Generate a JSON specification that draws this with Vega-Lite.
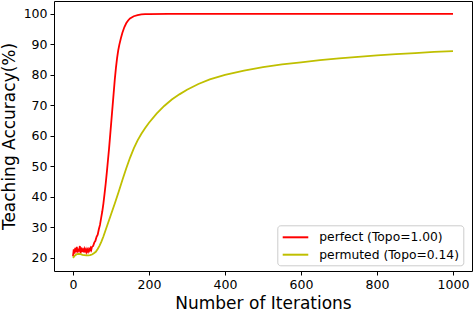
{
  "$schema": "https://vega.github.io/schema/vega-lite/v6.json",
  "width": 418,
  "height": 270,
  "autosize": "none",
  "padding": {"left": 54, "top": 1, "right": 2, "bottom": 43},
  "config": {
    "font": "DejaVu Sans",
    "view": {"stroke": "#000000", "strokeWidth": 1},
    "axis": {
      "grid": false,
      "domain": false,
      "tickColor": "#000000",
      "tickSize": 4,
      "labelColor": "#000000",
      "labelFontSize": 12.5,
      "titleColor": "#000000",
      "titleFontSize": 17,
      "titleFontWeight": "normal"
    }
  },
  "datasets": {
    "lines": [
      {"iter": 0, "acc": 20.5, "series": "perfect (Topo=1.00)"},
      {"iter": 2, "acc": 22.8, "series": "perfect (Topo=1.00)"},
      {"iter": 4, "acc": 21.4, "series": "perfect (Topo=1.00)"},
      {"iter": 6, "acc": 23.3, "series": "perfect (Topo=1.00)"},
      {"iter": 8, "acc": 21.9, "series": "perfect (Topo=1.00)"},
      {"iter": 10, "acc": 23.6, "series": "perfect (Topo=1.00)"},
      {"iter": 12, "acc": 21.7, "series": "perfect (Topo=1.00)"},
      {"iter": 14, "acc": 23.0, "series": "perfect (Topo=1.00)"},
      {"iter": 16, "acc": 22.1, "series": "perfect (Topo=1.00)"},
      {"iter": 18, "acc": 23.9, "series": "perfect (Topo=1.00)"},
      {"iter": 20, "acc": 21.5, "series": "perfect (Topo=1.00)"},
      {"iter": 22, "acc": 23.4, "series": "perfect (Topo=1.00)"},
      {"iter": 24, "acc": 22.0, "series": "perfect (Topo=1.00)"},
      {"iter": 26, "acc": 23.1, "series": "perfect (Topo=1.00)"},
      {"iter": 28, "acc": 21.8, "series": "perfect (Topo=1.00)"},
      {"iter": 30, "acc": 22.9, "series": "perfect (Topo=1.00)"},
      {"iter": 32, "acc": 22.2, "series": "perfect (Topo=1.00)"},
      {"iter": 34, "acc": 22.8, "series": "perfect (Topo=1.00)"},
      {"iter": 36, "acc": 21.9, "series": "perfect (Topo=1.00)"},
      {"iter": 38, "acc": 22.7, "series": "perfect (Topo=1.00)"},
      {"iter": 40, "acc": 22.1, "series": "perfect (Topo=1.00)"},
      {"iter": 42, "acc": 22.9, "series": "perfect (Topo=1.00)"},
      {"iter": 44, "acc": 22.4, "series": "perfect (Topo=1.00)"},
      {"iter": 46, "acc": 23.2, "series": "perfect (Topo=1.00)"},
      {"iter": 48, "acc": 22.6, "series": "perfect (Topo=1.00)"},
      {"iter": 50, "acc": 23.6, "series": "perfect (Topo=1.00)"},
      {"iter": 53, "acc": 23.9, "series": "perfect (Topo=1.00)"},
      {"iter": 56, "acc": 25.0, "series": "perfect (Topo=1.00)"},
      {"iter": 59, "acc": 25.6, "series": "perfect (Topo=1.00)"},
      {"iter": 62, "acc": 26.9, "series": "perfect (Topo=1.00)"},
      {"iter": 65, "acc": 27.6, "series": "perfect (Topo=1.00)"},
      {"iter": 68, "acc": 29.4, "series": "perfect (Topo=1.00)"},
      {"iter": 71, "acc": 30.8, "series": "perfect (Topo=1.00)"},
      {"iter": 74, "acc": 33.0, "series": "perfect (Topo=1.00)"},
      {"iter": 77, "acc": 35.2, "series": "perfect (Topo=1.00)"},
      {"iter": 80, "acc": 37.8, "series": "perfect (Topo=1.00)"},
      {"iter": 83, "acc": 41.0, "series": "perfect (Topo=1.00)"},
      {"iter": 86, "acc": 44.3, "series": "perfect (Topo=1.00)"},
      {"iter": 89, "acc": 48.0, "series": "perfect (Topo=1.00)"},
      {"iter": 92, "acc": 52.0, "series": "perfect (Topo=1.00)"},
      {"iter": 95, "acc": 56.0, "series": "perfect (Topo=1.00)"},
      {"iter": 98, "acc": 60.5, "series": "perfect (Topo=1.00)"},
      {"iter": 101, "acc": 65.0, "series": "perfect (Topo=1.00)"},
      {"iter": 104, "acc": 69.5, "series": "perfect (Topo=1.00)"},
      {"iter": 107, "acc": 74.0, "series": "perfect (Topo=1.00)"},
      {"iter": 110, "acc": 78.5, "series": "perfect (Topo=1.00)"},
      {"iter": 113, "acc": 82.3, "series": "perfect (Topo=1.00)"},
      {"iter": 116, "acc": 85.5, "series": "perfect (Topo=1.00)"},
      {"iter": 119, "acc": 88.0, "series": "perfect (Topo=1.00)"},
      {"iter": 122, "acc": 89.9, "series": "perfect (Topo=1.00)"},
      {"iter": 126, "acc": 92.0, "series": "perfect (Topo=1.00)"},
      {"iter": 130, "acc": 93.8, "series": "perfect (Topo=1.00)"},
      {"iter": 135, "acc": 95.6, "series": "perfect (Topo=1.00)"},
      {"iter": 140, "acc": 96.9, "series": "perfect (Topo=1.00)"},
      {"iter": 145, "acc": 97.8, "series": "perfect (Topo=1.00)"},
      {"iter": 150, "acc": 98.5, "series": "perfect (Topo=1.00)"},
      {"iter": 160, "acc": 99.2, "series": "perfect (Topo=1.00)"},
      {"iter": 170, "acc": 99.6, "series": "perfect (Topo=1.00)"},
      {"iter": 180, "acc": 99.8, "series": "perfect (Topo=1.00)"},
      {"iter": 190, "acc": 99.9, "series": "perfect (Topo=1.00)"},
      {"iter": 200, "acc": 99.9, "series": "perfect (Topo=1.00)"},
      {"iter": 250, "acc": 100.0, "series": "perfect (Topo=1.00)"},
      {"iter": 400, "acc": 100.0, "series": "perfect (Topo=1.00)"},
      {"iter": 600, "acc": 100.0, "series": "perfect (Topo=1.00)"},
      {"iter": 800, "acc": 100.0, "series": "perfect (Topo=1.00)"},
      {"iter": 1000, "acc": 100.0, "series": "perfect (Topo=1.00)"},
      {"iter": 0, "acc": 20.0, "series": "permuted (Topo=0.14)"},
      {"iter": 5, "acc": 20.8, "series": "permuted (Topo=0.14)"},
      {"iter": 10, "acc": 21.2, "series": "permuted (Topo=0.14)"},
      {"iter": 15, "acc": 21.3, "series": "permuted (Topo=0.14)"},
      {"iter": 20, "acc": 21.2, "series": "permuted (Topo=0.14)"},
      {"iter": 25, "acc": 21.0, "series": "permuted (Topo=0.14)"},
      {"iter": 30, "acc": 20.9, "series": "permuted (Topo=0.14)"},
      {"iter": 35, "acc": 20.8, "series": "permuted (Topo=0.14)"},
      {"iter": 40, "acc": 20.8, "series": "permuted (Topo=0.14)"},
      {"iter": 45, "acc": 20.9, "series": "permuted (Topo=0.14)"},
      {"iter": 50, "acc": 21.1, "series": "permuted (Topo=0.14)"},
      {"iter": 55, "acc": 21.5, "series": "permuted (Topo=0.14)"},
      {"iter": 60, "acc": 22.0, "series": "permuted (Topo=0.14)"},
      {"iter": 65, "acc": 22.9, "series": "permuted (Topo=0.14)"},
      {"iter": 70, "acc": 24.0, "series": "permuted (Topo=0.14)"},
      {"iter": 75, "acc": 25.4, "series": "permuted (Topo=0.14)"},
      {"iter": 80, "acc": 27.0, "series": "permuted (Topo=0.14)"},
      {"iter": 85, "acc": 28.8, "series": "permuted (Topo=0.14)"},
      {"iter": 90, "acc": 30.6, "series": "permuted (Topo=0.14)"},
      {"iter": 95, "acc": 32.4, "series": "permuted (Topo=0.14)"},
      {"iter": 100, "acc": 34.2, "series": "permuted (Topo=0.14)"},
      {"iter": 110, "acc": 37.8, "series": "permuted (Topo=0.14)"},
      {"iter": 120, "acc": 41.6, "series": "permuted (Topo=0.14)"},
      {"iter": 130, "acc": 45.5, "series": "permuted (Topo=0.14)"},
      {"iter": 140, "acc": 49.3, "series": "permuted (Topo=0.14)"},
      {"iter": 150, "acc": 52.8, "series": "permuted (Topo=0.14)"},
      {"iter": 160, "acc": 55.9, "series": "permuted (Topo=0.14)"},
      {"iter": 170, "acc": 58.5, "series": "permuted (Topo=0.14)"},
      {"iter": 180, "acc": 60.7, "series": "permuted (Topo=0.14)"},
      {"iter": 190, "acc": 62.6, "series": "permuted (Topo=0.14)"},
      {"iter": 200, "acc": 64.3, "series": "permuted (Topo=0.14)"},
      {"iter": 220, "acc": 67.3, "series": "permuted (Topo=0.14)"},
      {"iter": 240, "acc": 69.8, "series": "permuted (Topo=0.14)"},
      {"iter": 260, "acc": 71.9, "series": "permuted (Topo=0.14)"},
      {"iter": 280, "acc": 73.6, "series": "permuted (Topo=0.14)"},
      {"iter": 300, "acc": 75.1, "series": "permuted (Topo=0.14)"},
      {"iter": 330, "acc": 77.0, "series": "permuted (Topo=0.14)"},
      {"iter": 360, "acc": 78.5, "series": "permuted (Topo=0.14)"},
      {"iter": 400, "acc": 80.0, "series": "permuted (Topo=0.14)"},
      {"iter": 450, "acc": 81.4, "series": "permuted (Topo=0.14)"},
      {"iter": 500, "acc": 82.5, "series": "permuted (Topo=0.14)"},
      {"iter": 550, "acc": 83.4, "series": "permuted (Topo=0.14)"},
      {"iter": 600, "acc": 84.1, "series": "permuted (Topo=0.14)"},
      {"iter": 650, "acc": 84.8, "series": "permuted (Topo=0.14)"},
      {"iter": 700, "acc": 85.4, "series": "permuted (Topo=0.14)"},
      {"iter": 750, "acc": 85.9, "series": "permuted (Topo=0.14)"},
      {"iter": 800, "acc": 86.4, "series": "permuted (Topo=0.14)"},
      {"iter": 850, "acc": 86.8, "series": "permuted (Topo=0.14)"},
      {"iter": 900, "acc": 87.1, "series": "permuted (Topo=0.14)"},
      {"iter": 950, "acc": 87.5, "series": "permuted (Topo=0.14)"},
      {"iter": 1000, "acc": 87.8, "series": "permuted (Topo=0.14)"}
    ]
  },
  "data": {"name": "lines"},
  "mark": {"type": "line", "strokeWidth": 1.8, "clip": true},
  "encoding": {
    "x": {
      "field": "iter",
      "type": "quantitative",
      "title": "Number of Iterations",
      "scale": {"domain": [-50, 1050], "nice": false, "zero": false},
      "axis": {"values": [0, 200, 400, 600, 800, 1000], "format": "d", "labelPadding": 3, "titlePadding": 5}
    },
    "y": {
      "field": "acc",
      "type": "quantitative",
      "title": "Teaching Accuracy(%)",
      "scale": {"domain": [15.7, 104.2], "nice": false, "zero": false},
      "axis": {"values": [20, 30, 40, 50, 60, 70, 80, 90, 100], "labelPadding": 3, "titlePadding": 5}
    },
    "color": {
      "field": "series",
      "type": "nominal",
      "scale": {"domain": ["perfect (Topo=1.00)", "permuted (Topo=0.14)"], "range": ["#ff0000", "#bfbf00"]},
      "legend": {
        "title": null,
        "orient": "none",
        "legendX": 223.3,
        "legendY": 224.3,
        "symbolType": "M-0.88,0H2.53",
        "symbolSize": 225,
        "symbolStrokeWidth": 2,
        "symbolOffset": 0,
        "labelOffset": 21.5,
        "labelFontSize": 12.3,
        "labelColor": "#000000",
        "padding": 3.5,
        "rowPadding": 2.4,
        "offset": 0,
        "strokeColor": "#cccccc",
        "fillColor": "#ffffff",
        "cornerRadius": 3
      }
    }
  }
}
